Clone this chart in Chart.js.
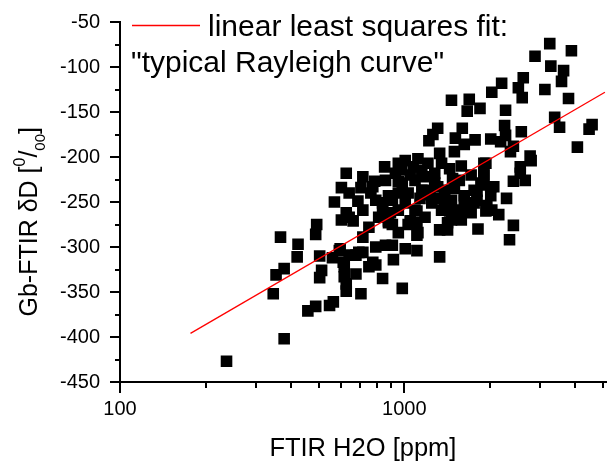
<!DOCTYPE html>
<html><head><meta charset="utf-8">
<script src="https://cdn.jsdelivr.net/npm/chart.js@4.4.1/dist/chart.umd.min.js"></script>
<style>html,body{margin:0;padding:0;background:#fff;overflow:hidden}canvas{display:block}</style>
</head><body>
<canvas id="c" width="614" height="467"></canvas>
<script>
// ---- data ----
const h2o = [
 237,378,346,354,378,367,423,420,492,488,504,512,504,458,488,546,563,595,559,615,615,625,704,676,676,715,715,751,640,661,775,751,794,859,908,839,916,984,953,908,1008,1049,813,601,625,610,
 853,625,715,787,775,601,640,568,687,794,908,625,715,839,880,591,794,692,1008,977,953,953,1075,640,
 953,1117,1211,859,984,1091,1183,1280,880,1032,1183,1311,839,953,1091,1250,1353,880,1032,1117,1332,1420,1537,1466,1626,1761,1861,2015,1906,1906,1587,1719,1952,1761,2015,
 1153,1332,1353,1501,1587,1479,1501,1387,1280,1153,1232,1387,1444,1626,1665,1803,1906,1906,1937,2065,1803,
 1108,1108,1108,1108,1332,1420,1466,1525,1444,1600,1817,1937,2032,2421,2346,
 2622,2201,2032,2520,2600,3124,3278,3575,2884,3250,3873,3635,3783,1466,1693,1665,1847,2272,3382,3519,1311,1261,1221,1600,1513,1775,1626,2015,2254,2272,2581,2183,2364,2421,2772,2795,2559,2559,2421,2664,2290,4579,4469,4065,
 931,1049,1136,1280,1562,1719,2150,894,1008,1183,763,704,1444
];
const dD = [
 -427,-402,-352,-331,-324,-289,-297,-311,-275,-286,-310,-326,-334,-371,-366,-365,-361,-302,-312,-322,-333,-349,-352,-330,-309,-306,-289,-278,-267,-271,-317,-322,-320,-298,-298,-335,-314,-346,-284,-275,-302,-271,-267,-270,-341,-317,
 -211,-218,-222,-227,-233,-234,-240,-250,-249,-248,-248,-262,-259,-259,-271,-304,-300,-306,-204,-214,-227,-240,-211,-309,
 -207,-202,-207,-226,-229,-226,-222,-218,-243,-240,-237,-233,-251,-259,-259,-251,-259,-273,-275,-284,-281,-273,-259,-248,-243,-237,-229,-233,-218,-207,-270,-262,-254,-251,-243,
 -215,-196,-207,-194,-210,-224,-235,-237,-229,-237,-242,-248,-254,-248,-253,-238,-231,-220,-207,-233,-248,
 -260,-273,-287,-304,-311,-281,-270,-262,-260,-260,-280,-260,-259,-276,-292,
 -112,-118,-128,-123,-134,-125,-99,-116,-88,-74,-82,-104,-135,-137,-136,-149,-146,-148,-156,-167,-168,-175,-182,-168,-179,-181,-186,-180,-165,-176,-172,-183,-194,-188,-199,-204,-211,-218,-227,-226,-246,-164,-169,-189,
 -218,-220,-246,-246,-226,-220,-264,-262,-251,-267,-240,-234,-213
];
const fitH2O = [177, 5080];
const fitDD = [-396, -128];
const xMajorTicks = [100, 1000];
const xMinorTicks = [200, 300, 400, 500, 600, 700, 800, 900, 2000, 3000, 4000, 5000];
const yMajorTicks = [-450, -400, -350, -300, -250, -200, -150, -100, -50];
const yMinorTicks = [-425, -375, -325, -275, -225, -175, -125, -75];
const xTitle = 'FTIR H2O [ppm]';
const yTitleText = ['Gb-FTIR \u03B4D [', '0', '/', '00', ']'];
const legendLines = ['linear least squares fit:', '"typical Rayleigh curve"'];

// ---- drawing ----
const FONT = 'Liberation Sans, Arial, sans-serif';
Chart.defaults.font.family = FONT;
Chart.defaults.color = '#000';

const minorTicks = {
  id: 'minorTicks',
  afterDraw(chart) {
    const {ctx, scales: {x, y}} = chart;
    ctx.save();
    ctx.strokeStyle = '#000';
    ctx.lineWidth = 2;
    ctx.beginPath();
    xMinorTicks.forEach(v => {
      const p = Math.round(x.getPixelForValue(v));
      ctx.moveTo(p, y.bottom); ctx.lineTo(p, y.bottom + 6);
    });
    yMinorTicks.forEach(v => {
      const p = Math.round(y.getPixelForValue(v));
      ctx.moveTo(x.left - 5, p); ctx.lineTo(x.left, p);
    });
    ctx.stroke();
    ctx.restore();
  }
};

const yTitle = {
  id: 'yTitle',
  afterDraw(chart) {
    const {ctx} = chart;
    const sizes = [25, 16, 25, 15, 25];
    const shifts = [0, -12.5, 0, 8, 0];
    ctx.save();
    ctx.translate(37, 127);
    ctx.rotate(-Math.PI / 2);
    ctx.fillStyle = '#000';
    ctx.textBaseline = 'alphabetic';
    ctx.textAlign = 'left';
    let total = 0;
    const widths = yTitleText.map((t, i) => {
      ctx.font = sizes[i] + 'px ' + FONT;
      const w = ctx.measureText(t).width; total += w; return w;
    });
    let u = -total;
    yTitleText.forEach((t, i) => {
      ctx.font = sizes[i] + 'px ' + FONT;
      ctx.fillText(t, u, shifts[i]);
      u += widths[i];
    });
    ctx.restore();
  }
};

const legendBox = {
  id: 'legendBox',
  afterDraw(chart) {
    const {ctx} = chart;
    const ds = chart.data.datasets[0];
    ctx.save();
    ctx.strokeStyle = ds.borderColor;
    ctx.lineWidth = ds.borderWidth;
    ctx.beginPath();
    ctx.moveTo(132, 25.5); ctx.lineTo(200, 25.5);
    ctx.stroke();
    ctx.fillStyle = '#000';
    ctx.font = '30px ' + FONT;
    ctx.textBaseline = 'alphabetic';
    ctx.fillText(legendLines[0], 208, 36);
    ctx.fillText(legendLines[1], 131, 72);
    ctx.restore();
  }
};

new Chart(document.getElementById('c'), {
  type: 'scatter',
  data: {
    datasets: [
      {
        label: legendLines.join(' '),
        data: fitH2O.map((v, i) => ({x: v, y: fitDD[i]})),
        showLine: true,
        borderColor: '#ff0000',
        borderWidth: 1.3,
        pointRadius: 0,
        fill: false
      },
      {
        label: 'data',
        data: h2o.map((v, i) => ({x: v, y: dD[i]})),
        pointStyle: 'rect',
        pointRadius: 8.2,
        pointBorderWidth: 0,
        pointBackgroundColor: '#000',
        pointBorderColor: '#000',
        backgroundColor: '#000'
      }
    ]
  },
  options: {
    responsive: false,
    animation: false,
    devicePixelRatio: 1,
    events: [],
    layout: {padding: {top: 16, right: 0, left: 0, bottom: 0}},
    plugins: {legend: {display: false}, tooltip: {enabled: false}},
    scales: {
      x: {
        type: 'logarithmic',
        min: 100,
        max: 5117,
        afterFit(s) { s.height = 85; },
        afterBuildTicks(s) { s.ticks = xMajorTicks.map(v => ({value: v})); },
        grid: {drawOnChartArea: false, drawTicks: true, tickLength: 11, lineWidth: 2, color: '#000'},
        border: {display: true, color: '#000', width: 2},
        ticks: {font: {size: 20}, color: '#000', padding: 4, maxRotation: 0, autoSkip: false, callback: v => String(v)},
        title: {display: true, text: xTitle, font: {size: 25.5}, color: '#000', padding: {top: 0, bottom: 3}}
      },
      y: {
        min: -450,
        max: -50,
        afterFit(s) { s.width = 120; },
        afterBuildTicks(s) { s.ticks = yMajorTicks.map(v => ({value: v})); },
        grid: {drawOnChartArea: false, drawTicks: true, tickLength: 10, lineWidth: 2, color: '#000'},
        border: {display: true, color: '#000', width: 2},
        ticks: {font: {size: 20}, color: '#000', padding: 10, autoSkip: false, callback: v => String(v)}
      }
    }
  },
  plugins: [minorTicks, yTitle, legendBox]
});
</script>
</body></html>
